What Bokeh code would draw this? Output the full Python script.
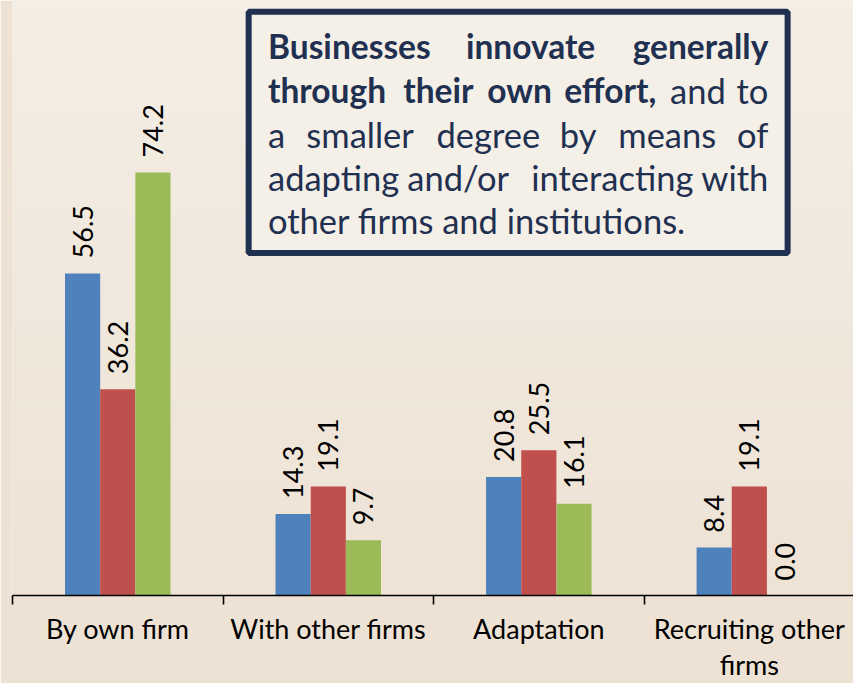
import numpy as np
from bokeh.plotting import figure
from bokeh.models import ColumnDataSource, FixedTicker, LinearAxis, Range1d, BoxAnnotation, Label, LabelSet
from bokeh.core.properties import value
from bokeh.embed import file_html
from bokeh.resources import INLINE

# ---------------- data ----------------
categories = ["By own firm", "With other firms", "Adaptation", "Recruiting other\nfirms"]
series_blue = [56.5, 14.3, 20.8, 8.4]
series_red = [36.2, 19.1, 25.5, 19.1]
series_green = [74.2, 9.7, 16.1, 0.0]
series_values = [series_blue, series_red, series_green]
series_colors = ["#4F81BD", "#C0504D", "#9BBB59"]

# ---------------- layout ----------------
W, H = 853, 683
SX, SY = W / 861.0, H / 691.0          # reference px -> figure px

BORDER_LEFT = 12
FRAME_BOTTOM = 603 * SY                 # axis position in figure px
BORDER_BOTTOM = int(round(H - FRAME_BOTTOM))
FRAME_W = W - BORDER_LEFT
FRAME_H = H - BORDER_BOTTOM
CAT_PX = 212.5 * SX
X_END = FRAME_W / CAT_PX
PX_PER_UNIT = 5.777 * SY
Y_END = FRAME_H / PX_PER_UNIT
BAR_W = 35.5 / 212.5
TEXT_SHIFT = 10                         # baseline correction (px, upward)


def dx(px_ref):
    return (px_ref * SX - BORDER_LEFT) / CAT_PX


def dy(py_ref):
    return (FRAME_H - py_ref * SY) / PX_PER_UNIT


p = figure(width=W, height=H, x_range=Range1d(0, X_END), y_range=Range1d(0, Y_END),
           output_backend="svg", toolbar_location=None,
           x_axis_type=None, y_axis_type=None,
           min_border_left=BORDER_LEFT, min_border_right=0, min_border_top=0,
           min_border_bottom=BORDER_BOTTOM)
p.grid.visible = False
p.outline_line_color = None
p.border_fill_color = "#EDE2D3"
p.background_fill_color = "#F1E9DE"

# subtle vertical gradient background
top_c = np.array([244, 238, 229])
bot_c = np.array([238, 227, 213])
n = 64
t = np.linspace(0, 1, n)[:, None]
cols = (bot_c[None, :] * (1 - t) + top_c[None, :] * t).astype(np.uint32)
img = np.empty((n, 1), dtype=np.uint32)
view = img.view(dtype=np.uint8).reshape((n, 1, 4))
view[:, 0, 0] = cols[:, 0]
view[:, 0, 1] = cols[:, 1]
view[:, 0, 2] = cols[:, 2]
view[:, 0, 3] = 255
p.image_rgba(image=[img], x=0, y=0, dw=X_END, dh=Y_END)

centers = [i + 0.5 for i in range(len(categories))]
for k, (vals, col) in enumerate(zip(series_values, series_colors)):
    xs = [c + (k - 1) * BAR_W for c in centers]
    src = ColumnDataSource(dict(x=xs, top=vals, lab=["%.1f" % v for v in vals]))
    p.vbar(x="x", top="top", bottom=0, width=BAR_W, source=src,
           fill_color=col, line_color=None)
    p.add_layout(LabelSet(x="x", y="top", text="lab", source=src, angle=np.pi / 2,
                          text_align="left", text_baseline="middle", y_offset=15,
                          text_font=value("Lato"), text_font_size="27px",
                          text_color="black"))

# category axis: labels at centres, ticks at category boundaries
ax = LinearAxis(ticker=FixedTicker(ticks=centers, minor_ticks=list(range(len(categories) + 1))),
                major_label_overrides={c: lab for c, lab in zip(centers, categories)})
ax.axis_line_color = "black"
ax.axis_line_width = 1.6
ax.major_tick_line_color = None
ax.major_tick_out = 0
ax.major_tick_in = 0
ax.minor_tick_line_color = "black"
ax.minor_tick_line_width = 1.6
ax.minor_tick_out = 9
ax.minor_tick_in = 0
ax.major_label_text_font = "Lato"
ax.major_label_text_font_size = "27px"
ax.major_label_text_color = "black"
ax.major_label_standoff = 7
ax.major_label_text_line_height = 1.1
p.add_layout(ax, "below")

# text box
NAVY = "#1F3050"
p.add_layout(BoxAnnotation(left=dx(250.5), right=dx(794.5), top=dy(11.5), bottom=dy(256),
                           fill_color="#F4EFE7", fill_alpha=1.0,
                           line_color=NAVY, line_alpha=1.0, line_width=6))

L, R = 270, 775
box_words = [
    # (text, x_ref, baseline_ref, align, bold)
    ("Businesses", L, 56, "left", True),
    ("innovate", 535, 56, "center", True),
    ("generally", R, 56, "right", True),
    ("through", L, 101, "left", True),
    ("their", 442, 101, "center", True),
    ("own", 524, 101, "center", True),
    ("effort,", 615.5, 101, "center", True),
    ("and", 704, 101, "center", False),
    ("to", R, 101, "right", False),
    ("a", L, 146, "left", False),
    ("smaller", 363, 146, "center", False),
    ("degree", 492.5, 146, "center", False),
    ("by", 583, 146, "center", False),
    ("means", 673, 146, "center", False),
    ("of", R, 146, "right", False),
    ("adapting", L, 190, "left", False),
    ("and/or", 462, 190, "center", False),
    ("interacting", 617.5, 190, "center", False),
    ("with", R, 190, "right", False),
    ("other firms and institutions.", L, 233, "left", False),
]
for txt, xp, yp, al, bold in box_words:
    p.add_layout(Label(x=dx(xp), y=dy(yp), y_offset=TEXT_SHIFT, text=txt, text_align=al,
                       text_baseline="alphabetic", text_font="Lato",
                       text_font_size="33.5px" if bold else "34.5px", text_color=NAVY,
                       text_font_style="bold" if bold else "normal"))

open("out.html", "w").write(file_html(p, INLINE))
